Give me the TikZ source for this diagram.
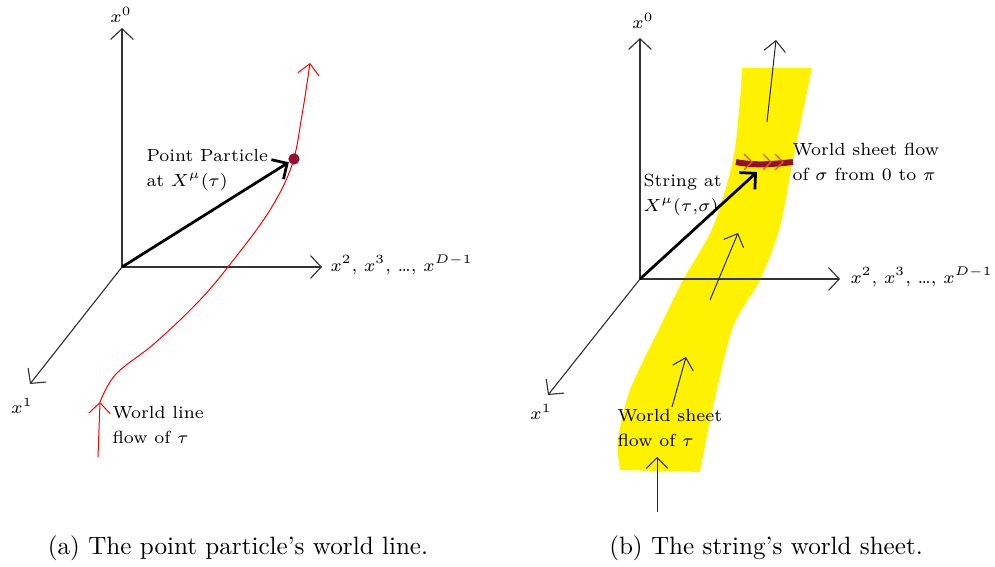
\documentclass[tikz,border=0pt]{standalone}
\usetikzlibrary{arrows.meta}

\definecolor{sheetyellow}{RGB}{255,242,0}
\definecolor{stringred}{RGB}{150,15,50}
\definecolor{hatchred}{RGB}{225,90,40}

\tikzset{
  axis/.style={-{Straight Barb[length=1.5mm,width=3.2mm]}, line width=0.45pt, black!80},
  posvec/.style={-{Straight Barb[length=1.6mm,width=3.2mm]}, line width=1.1pt},
  flow/.style={-{Straight Barb[length=1.5mm,width=3mm]}, line width=0.4pt, black!85},
  lbl/.style={font=\scriptsize, inner sep=0pt, align=left},
}

\begin{document}
\begin{tikzpicture}[x=0.014cm, y=-0.014cm]
        \useasboundingbox (0,0) rectangle (995,567);

        % (a) punktova castice
        \coordinate (origA) at (122,267);
        \draw[axis] (origA) -- (122,28) coordinate (x0A);
        \draw[axis] (origA) -- (322,267) coordinate (x2A);
        \draw[axis] (origA) -- (30,384) coordinate (x1A);
        \node[lbl] (x0labA) at (121,15) {$x^0$};
        \node[lbl, anchor=west] (x2labA) at (330,265) {$x^2$, $x^3$, \dots, $x^{D-1}$};
        \node[lbl] (x1labA) at (22,406) {$x^1$};

        % svetocara
        \draw[flow, red] (98,457) -- (100,402) coordinate (wlA);
        \draw[flow, red] plot[smooth, tension=0.6] coordinates
          {(100,402) (116,374) (155,343) (200,300) (235,258) (270,210) (292,165) (302,115) (310,63)};
        \node[circle, fill=stringred, inner sep=0pt, minimum size=4.5pt] (dotA) at (294,159) {};
        \draw[posvec] (origA) -- (dotA);

        % popisky
        \node[lbl, anchor=west] (ppA) at (146,170) {Point Particle\\[2pt]at $X^\mu(\tau)$};
        \node[lbl, anchor=west] (wlabA) at (112,425) {World line\\[2pt]flow of $\tau$};

        % (b) struna
        \fill[sheetyellow] plot[smooth] coordinates
          {(742,68) (740,100) (733,160) (713,227) (683,280) (660,327) (630,390) (618,440) (620,470)}
          -- plot[smooth] coordinates
          {(700,472) (713,407) (733,327) (760,280) (780,227) (793,160) (812,68)} -- cycle;

        \coordinate (origB) at (640,279);
        \draw[axis] (origB) -- (640,38) coordinate (x0B);
        \draw[axis] (origB) -- (840,279) coordinate (x2B);
        \draw[axis] (origB) -- (548,395) coordinate (x1B);
        \node[lbl] (x0labB) at (643,21) {$x^0$};
        \node[lbl, anchor=west] (x2labB) at (850,277) {$x^2$, $x^3$, \dots, $x^{D-1}$};
        \node[lbl] (x1labB) at (541,412) {$x^1$};

        % tok po svetoplose
        \draw[flow] (767,122) -- (776,40);
        \draw[flow] (710,300) -- (738,233);
        \draw[flow] (672,407) -- (686,357);
        \draw[flow] (657,512) -- (657,457);

        % struna a sipky sigma
        \draw[stringred, line width=2.4pt] (736,162) coordinate (sA)
          .. controls (755,166) and (775,164) .. (793,162) coordinate (sB);
        \foreach \hx in {752,771,783}
          \draw[hatchred, line width=0.5pt] (\hx-8,154) -- (\hx,162) -- (\hx-8,170);
        \coordinate (tipB) at (757,172);
        \draw[posvec] (origB) -- (tipB);

        % popisky
        \node[lbl, anchor=west] (sflB) at (792,162) {World sheet flow\\[2pt]of $\sigma$ from 0 to $\pi$};
        \node[lbl, anchor=west] (strB) at (643,195) {String at\\[2pt]$X^\mu(\tau{,}\sigma)$};
        \node[lbl, anchor=west] (wsB) at (617,428) {World sheet\\[2pt]flow of $\tau$};

        % titulky
        \node (capA) at (238,548) {(a) The point particle's world line.};
        \node (capB) at (766,548) {(b) The string's world sheet.};
    \end{tikzpicture}
\end{document}
